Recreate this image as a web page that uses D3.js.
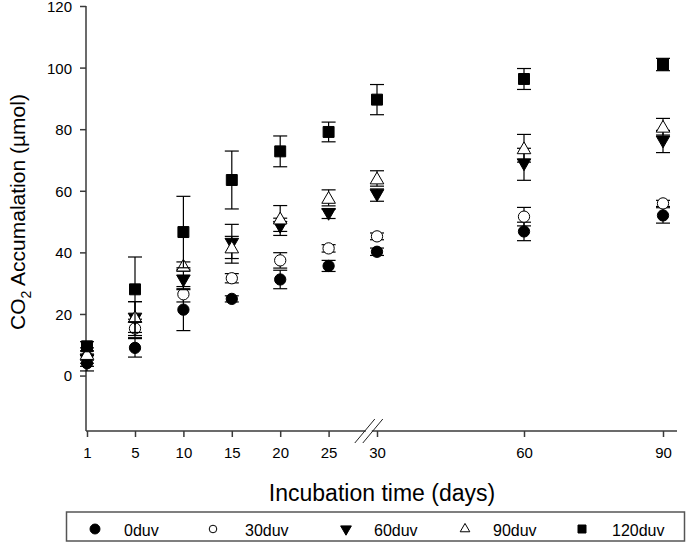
<!DOCTYPE html>
<html lang="en">
<head>
<meta charset="utf-8">
<title>CO2 Accumalation</title>
<script src="https://cdn.jsdelivr.net/npm/d3@7"></script>
<style>
  body { margin: 0; background: #fff; }
  text { font-family: Arial, "Liberation Sans", sans-serif; fill: #000; }
</style>
</head>
<body>
<script>
// data
var days = [1, 5, 10, 15, 20, 25, 30, 60, 90];
var seriesNames = ["0duv", "30duv", "60duv", "90duv", "120duv"];
var mean0   = [4.0, 9.0, 21.4, 24.9, 31.2, 35.6, 40.2, 46.8, 52.0];
var err0    = [2.5, 3.0, 6.8, 1.0, 3.0, 1.8, 1.2, 3.0, 2.5];
var mean30  = [6.0, 15.3, 26.4, 31.6, 37.4, 41.3, 45.2, 51.6, 55.9];
var err30   = [2.0, 3.0, 2.5, 1.5, 2.5, 1.2, 1.1, 3.0, 1.0];
var mean60  = [5.0, 18.5, 30.9, 42.8, 48.3, 52.5, 58.6, 68.6, 76.0];
var err60   = [2.0, 5.5, 3.0, 6.3, 2.8, 1.5, 2.0, 5.2, 3.6];
var mean90  = [7.0, 19.0, 35.7, 41.6, 51.0, 57.7, 64.0, 73.8, 80.8];
var err90   = [2.0, 5.0, 1.2, 3.6, 4.2, 2.6, 2.5, 4.5, 2.7];
var mean120 = [9.5, 28.0, 46.6, 63.5, 72.8, 79.1, 89.6, 96.3, 101.0];
var err120  = [1.5, 10.5, 11.6, 9.4, 5.0, 3.2, 4.9, 3.4, 2.0];
var yTicks = [0, 20, 40, 60, 80, 100, 120];

var means = [mean0, mean30, mean60, mean90, mean120];
var errs = [err0, err30, err60, err90, err120];

var w = 686, h = 544;
var svg = d3.select("body").append("svg").attr("width", w).attr("height", h);

// broken axis: 1..5 then 5..30 then 30..90
var xScale = d3.scaleLinear()
    .domain([1, 5, 30, 60, 90])
    .range([87, 135, 377, 524, 663]);
var yScale = d3.scaleLinear().domain([-18, 120]).range([431, 6]);

var axisColor = "#3a3a3a";

// y axis
var yAxis = d3.axisLeft(yScale).tickValues(yTicks).tickSize(6).tickPadding(8);
var gy = svg.append("g").attr("transform", "translate(86,0)").call(yAxis);
gy.select(".domain").remove();
gy.selectAll(".tick line").attr("stroke", axisColor).attr("stroke-width", 1.5);
gy.selectAll("text").attr("font-size", "15px").attr("fill", "#000").attr("dy", "0.36em");
svg.append("line").attr("x1", 86).attr("x2", 86)
   .attr("y1", yScale(120)).attr("y2", yScale(-18))
   .attr("stroke", axisColor).attr("stroke-width", 1.5);

// x axis
var xAxis = d3.axisBottom(xScale).tickValues(days).tickSize(6).tickPadding(10);
var gx = svg.append("g").attr("transform", "translate(0," + yScale(-18) + ")").call(xAxis);
gx.select(".domain").remove();
gx.selectAll(".tick line").attr("stroke", axisColor).attr("stroke-width", 1.5);
gx.selectAll("text").attr("font-size", "15px").attr("fill", "#000");
svg.append("line").attr("x1", 86).attr("x2", 677)
   .attr("y1", yScale(-18)).attr("y2", yScale(-18))
   .attr("stroke", axisColor).attr("stroke-width", 1.5);

// axis break mark
var bx = (xScale(25) + xScale(30)) / 2 + 16, by = yScale(-18);
svg.append("rect").attr("x", bx - 3).attr("y", by - 2).attr("width", 6).attr("height", 4).attr("fill", "#fff");
[-4, 4].forEach(function(o) {
  svg.append("line")
     .attr("x1", bx + o - 10).attr("y1", by + 12)
     .attr("x2", bx + o + 10).attr("y2", by - 12)
     .attr("stroke", "#222").attr("stroke-width", 1);
});

// symbols
var symbolDefs = [
  { type: d3.symbolCircle, size: 100, fill: "#000", leg: 78 },
  { type: d3.symbolCircle, size: 100, fill: "#fff", leg: 45 },
  { type: d3.symbolTriangle, size: 80, fill: "#000", rot: 180, leg: 50 },
  { type: d3.symbolTriangle, size: 80, fill: "#fff", rot: 0, leg: 40 },
  { type: d3.symbolSquare, size: 120, fill: "#000", leg: 64 }
];

var capW = 7;
means.forEach(function(m, s) {
  var g = svg.append("g");
  var pts = days.map(function(d, i) { return { x: d, y: m[i], e: errs[s][i] }; });
  var eb = g.selectAll(".eb").data(pts).enter().append("g");
  eb.append("line")
    .attr("x1", function(d) { return xScale(d.x); })
    .attr("x2", function(d) { return xScale(d.x); })
    .attr("y1", function(d) { return yScale(d.y + d.e); })
    .attr("y2", function(d) { return yScale(d.y - d.e); })
    .attr("stroke", "#000").attr("stroke-width", 1.2);
  [1, -1].forEach(function(sign) {
    eb.append("line")
      .attr("x1", function(d) { return xScale(d.x) - capW; })
      .attr("x2", function(d) { return xScale(d.x) + capW; })
      .attr("y1", function(d) { return yScale(d.y + sign * d.e); })
      .attr("y2", function(d) { return yScale(d.y + sign * d.e); })
      .attr("stroke", "#000").attr("stroke-width", 1.2);
  });
  var sd = symbolDefs[s];
  g.selectAll(".pt").data(pts).enter().append("path")
    .attr("d", d3.symbol().type(sd.type).size(sd.size))
    .attr("transform", function(d) {
      var ty = yScale(d.y) + (sd.type === d3.symbolTriangle ? (sd.rot ? -1.5 : 1.5) : 0);
      return "translate(" + xScale(d.x) + "," + ty + ")" + (sd.rot ? " rotate(" + sd.rot + ")" : "");
    })
    .attr("fill", sd.fill).attr("stroke", "#000").attr("stroke-width", 1);
});

// axis titles
svg.append("text")
   .attr("x", 382).attr("y", 501)
   .attr("text-anchor", "middle").attr("font-size", "23px")
   .text("Incubation time (days)");

var yt = svg.append("text")
   .attr("transform", "translate(25,212) rotate(-90)")
   .attr("text-anchor", "middle").attr("font-size", "21px");
yt.append("tspan").text("CO");
yt.append("tspan").attr("font-size", "14px").attr("dy", 6).text("2");
yt.append("tspan").attr("dy", -6).text(" Accumalation (\u00b5mol)");

// legend
svg.append("rect").attr("x", 66.5).attr("y", 512).attr("width", 618).attr("height", 29)
   .attr("fill", "#fff").attr("stroke", "#555").attr("stroke-width", 1.5);
var legSym = [95, 213, 346, 465, 582];
var legTxt = [124, 245, 374, 493, 612];
seriesNames.forEach(function(name, s) {
  var sd = symbolDefs[s];
  svg.append("path")
     .attr("d", d3.symbol().type(sd.type).size(sd.leg))
     .attr("transform", "translate(" + legSym[s] + ",529)" + (sd.rot ? " rotate(" + sd.rot + ")" : ""))
     .attr("fill", sd.fill).attr("stroke", "#000").attr("stroke-width", 1);
  svg.append("text")
     .attr("x", legTxt[s]).attr("y", 536)
     .attr("font-size", "16px").text(name);
});
</script>
</body>
</html>
